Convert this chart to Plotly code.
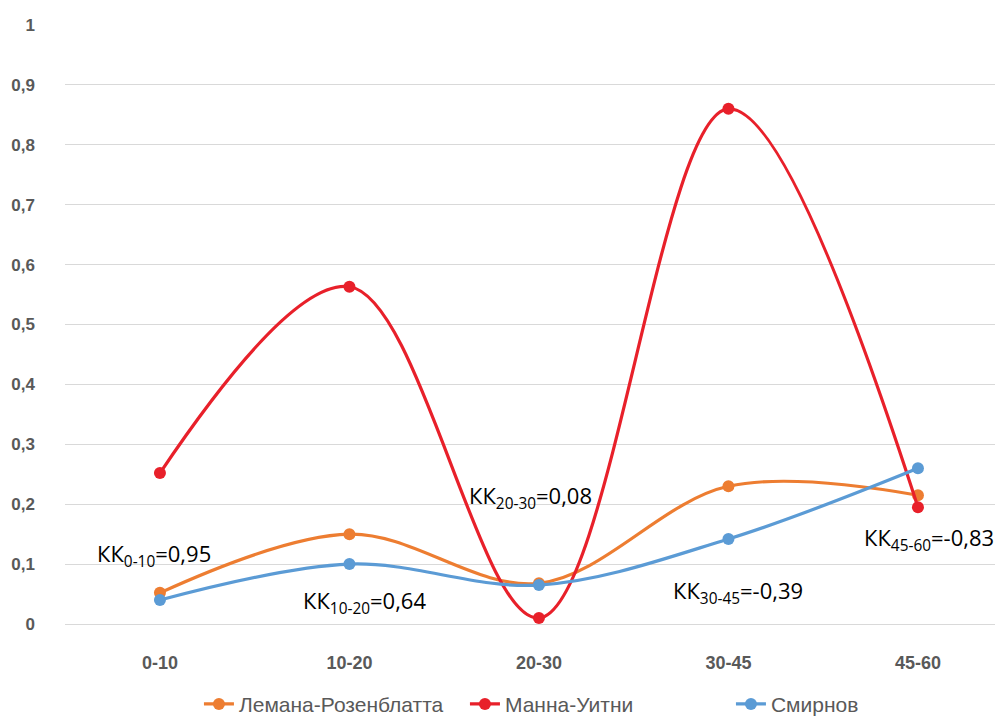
import plotly.graph_objects as go

categories = ["0-10", "10-20", "20-30", "30-45", "45-60"]
lemana = [0.052, 0.150, 0.068, 0.230, 0.215]
mann = [0.252, 0.563, 0.010, 0.860, 0.195]
smirnov = [0.040, 0.100, 0.065, 0.142, 0.260]

series_names = ["Лемана-Розенблатта", "Манна-Уитни", "Смирнов"]
series_colors = ["#ED7D31", "#E8202A", "#5B9BD5"]

kk_texts = ["КК<sub>0-10</sub>=0,95", "КК<sub>10-20</sub>=0,64", "КК<sub>20-30</sub>=0,08",
            "КК<sub>30-45</sub>=-0,39", "КК<sub>45-60</sub>=-0,83"]
kk_x = [-0.03, 1.077, 1.953, 3.05, 4.06]
kk_y = [0.115, 0.037, 0.212, 0.054, 0.142]

fig = go.Figure()
xi = list(range(len(categories)))
for name, vals, col in zip(series_names, [lemana, mann, smirnov], series_colors):
    fig.add_trace(go.Scatter(
        x=xi, y=vals, name=name, mode="lines+markers",
        line=dict(color=col, width=3.2, shape="spline", smoothing=1.0),
        marker=dict(color=col, size=12),
        cliponaxis=False,
    ))

for t, x, y in zip(kk_texts, kk_x, kk_y):
    fig.add_annotation(x=x, y=y, text=t, showarrow=False,
                       font=dict(family="Open Sans", size=22, color="#000000"))

fig.update_layout(
    width=995, height=710,
    paper_bgcolor="white", plot_bgcolor="white",
    margin=dict(l=57, r=3, t=17, b=94, autoexpand=False),
    separators=", ",
    showlegend=True,
    legend=dict(orientation="h", x=0.570, xanchor="center", y=-0.134, yanchor="middle",
                font=dict(family="Liberation Sans", size=21, color="#595959"),
                itemwidth=30, entrywidth=221, entrywidthmode="pixels",
                bgcolor="rgba(0,0,0,0)"),
    xaxis=dict(
        tickmode="array", tickvals=xi, ticktext=categories,
        range=[-0.501, 4.433], showgrid=False, zeroline=False, showline=False,
        ticks="", ticklabelstandoff=26, automargin=False,
        tickfont=dict(family="Liberation Sans Narrow, Liberation Sans", size=18, color="#595959", weight="bold"),
    ),
    yaxis=dict(
        range=[0, 1], dtick=0.1, tick0=0, showgrid=True, gridcolor="#D9D9D9", gridwidth=1,
        zeroline=True, zerolinecolor="#D9D9D9", zerolinewidth=1, showline=False, ticks="",
        ticklabelstandoff=29, automargin=False,
        tickfont=dict(family="Liberation Sans", size=17, color="#595959", weight="bold"),
    ),
)

fig.write_html("out.html")
